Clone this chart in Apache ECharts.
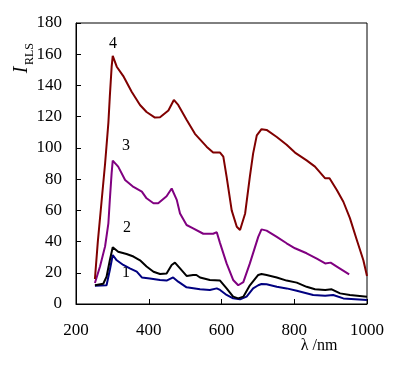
<!DOCTYPE html>
<html><head><meta charset="utf-8">
<script src="https://cdn.jsdelivr.net/npm/echarts@6/dist/echarts.min.js"></script>
<style>html,body{margin:0;padding:0;background:#fff}#c{width:397px;height:372px}</style>
</head><body><div id="c"></div>
<script>
// ---- data ----
const xTicks = [200, 400, 600, 800, 1000];
const yTicks = [0, 20, 40, 60, 80, 100, 120, 140, 160, 180];

const s4X = [252,260,270,280,289,293,298,301,312,330,353,376,394,417,431,454,469,481,504,527,559,577,596,600,605,614,628,642,651,665,678,687,697,710,724,752,779,802,834,857,885,897,917,935,953,972,990,1000];
const s4Y = [16,40,65,90,116,133,152,159,152,146,136,127.5,123,119.4,119.6,124,130.7,127.5,118,109,100.8,97,97,98,94.4,81.6,60,49.5,47.4,58,81.6,96.5,108,112,111.5,107,102,97,92,88,80.5,80.5,73,65.5,55,41,28,18];

const s3X = [252,266,280,289,293,298,301,316,335,358,381,394,413,426,449,463,477,486,504,522,550,577,587,596,614,632,646,660,678,701,710,724,752,779,802,834,862,885,900,917,951];
const s3Y = [13.5,24,37,51.7,66.7,84,91.8,88,79.4,75,72,67.7,64.5,64.5,69,74,66.7,58,50.6,48.5,45,45,46,39,26,15.4,12,14,26,43,47.8,47,43,38.9,35.7,32.5,29,26,26.5,24,19];

const s2X = [252,275,284,293,301,316,339,358,376,394,413,431,449,463,472,486,504,522,531,541,568,596,614,632,646,660,678,701,710,724,752,779,807,834,857,885,903,926,953,1000];
const s2Y = [12,13,17.5,28,36.3,33.5,32,30.4,28,24,20.7,19.2,19.6,25,26.5,22.8,18,18.6,18.6,17,15.4,15,10,4.7,3.6,4.7,12,18.6,19.2,18.6,17,15,13.7,11,9.4,9,9.4,6.8,5.8,4.7];

const s1X = [252,284,293,301,312,330,348,367,381,403,431,449,467,481,504,541,568,587,596,614,632,651,669,687,701,710,724,752,779,807,852,885,907,935,1000];
const s1Y = [11.7,12,21.8,31.4,28,25,22.8,20.7,17,16.4,15.4,15,17,14.3,10.7,9.4,9,10,9,5.8,3.6,3,4.7,10,12,12.8,12.6,11,10,8.5,5.8,5.3,5.8,3.6,2.6];

const seriesNames = ['1', '2', '3', '4'];
const seriesColors = ['#000080', '#000000', '#800080', '#800000'];

function pairs(xs, ys) { return xs.map((x, i) => [x, ys[i]]); }

const chart = echarts.init(document.getElementById('c'));
const FONT = '"Liberation Serif", "DejaVu Serif", serif';
const datasets = [pairs(s1X, s1Y), pairs(s2X, s2Y), pairs(s3X, s3Y), pairs(s4X, s4Y)];

chart.setOption({
  animation: false,
  backgroundColor: '#fff',
  grid: { left: 76, top: 23, right: 30, bottom: 68, show: true, borderColor: '#000', borderWidth: 1, backgroundColor: 'transparent' },
  xAxis: {
    type: 'value', min: xTicks[0], max: xTicks[xTicks.length - 1], interval: 200,
    axisLine: { lineStyle: { color: '#000', width: 1 } },
    axisTick: { inside: true, length: 5, lineStyle: { color: '#000' } },
    axisLabel: { color: '#000', fontFamily: FONT, fontSize: 17, margin: 18, formatter: v => String(v) },
    splitLine: { show: false }
  },
  yAxis: {
    type: 'value', min: yTicks[0], max: yTicks[yTicks.length - 1], interval: 20,
    axisLine: { show: true, lineStyle: { color: '#000', width: 1 } },
    axisTick: { show: true, inside: true, length: 5, lineStyle: { color: '#000' } },
    axisLabel: { color: '#000', fontFamily: FONT, fontSize: 17, margin: 14, formatter: v => String(v) },
    splitLine: { show: false }
  },
  series: datasets.map((d, i) => ({
    name: seriesNames[i], type: 'line', data: d, showSymbol: false, symbol: 'none',
    lineStyle: { color: seriesColors[i], width: 2 }, z: 2 + i
  })),
  graphic: [
    { type: 'text', x: 113, y: 44, style: { text: '4', font: '16px ' + FONT, fill: '#000', align: 'center', verticalAlign: 'middle' } },
    { type: 'text', x: 126, y: 146, style: { text: '3', font: '16px ' + FONT, fill: '#000', align: 'center', verticalAlign: 'middle' } },
    { type: 'text', x: 127, y: 228, style: { text: '2', font: '16px ' + FONT, fill: '#000', align: 'center', verticalAlign: 'middle' } },
    { type: 'text', x: 126, y: 273, style: { text: '1', font: '16px ' + FONT, fill: '#000', align: 'center', verticalAlign: 'middle' } },
    { type: 'text', x: 22, y: 70, rotation: Math.PI / 2, style: { text: 'I', font: 'italic 20px ' + FONT, fill: '#000', align: 'center', verticalAlign: 'middle' } },
    { type: 'text', x: 30, y: 54, rotation: Math.PI / 2, style: { text: 'RLS', font: '12px ' + FONT, fill: '#000', align: 'center', verticalAlign: 'middle' } },
    { type: 'text', x: 319, y: 346, style: { text: 'λ /nm', font: '16px ' + FONT, fill: '#000', align: 'center', verticalAlign: 'middle' } }
  ]
});
</script></body></html>
